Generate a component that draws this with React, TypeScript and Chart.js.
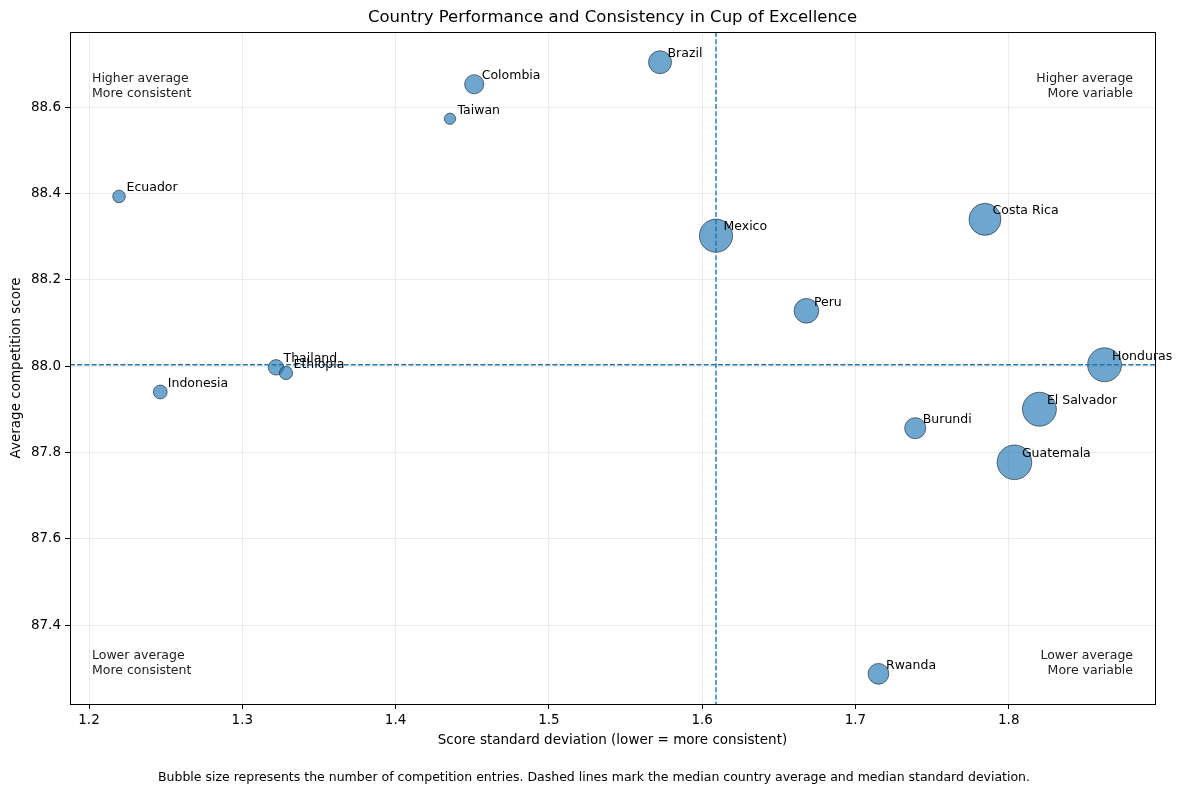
import React, { useEffect, useRef } from 'react';
import { Chart, registerables } from 'chart.js';

Chart.register(...registerables);

const countries = ['Brazil', 'Colombia', 'Taiwan', 'Ecuador', 'Mexico', 'Costa Rica', 'Peru', 'Honduras', 'El Salvador', 'Burundi', 'Guatemala', 'Rwanda', 'Thailand', 'Ethiopia', 'Indonesia'];
const scoreStd = [1.5725, 1.4513, 1.4355, 1.2196, 1.6090, 1.7845, 1.6680, 1.8625, 1.8200, 1.7390, 1.8037, 1.7150, 1.3220, 1.3285, 1.2465];
const avgScore = [88.704, 88.653, 88.573, 88.393, 88.302, 88.340, 88.128, 88.003, 87.900, 87.856, 87.777, 87.287, 87.997, 87.984, 87.940];
const entries = [33, 23, 8, 10, 69, 64, 38, 72, 72, 28, 75, 27, 15, 11, 12];

const xTicks = [1.2, 1.3, 1.4, 1.5, 1.6, 1.7, 1.8];
const yTicks = [87.4, 87.6, 87.8, 88.0, 88.2, 88.4, 88.6];

const medianStd = 1.6090;
const medianAvg = 88.003;

const FONT = 'DejaVu Sans';

const extras = {
  id: 'extras',
  afterDatasetsDraw(chart: any) {
    const { ctx, chartArea: a, scales } = chart;
    const x = scales.x;
    const y = scales.y;
    ctx.save();
    // median lines
    ctx.strokeStyle = '#2274b2';
    ctx.lineWidth = 1.4;
    ctx.setLineDash([5, 2.2]);
    const mx = x.getPixelForValue(medianStd);
    const my = y.getPixelForValue(medianAvg);
    ctx.beginPath();
    ctx.moveTo(mx, a.top);
    ctx.lineTo(mx, a.bottom);
    ctx.moveTo(a.left, my);
    ctx.lineTo(a.right, my);
    ctx.stroke();
    ctx.setLineDash([]);

    // country labels
    ctx.fillStyle = '#000';
    ctx.font = `12.5px "${FONT}"`;
    ctx.textAlign = 'left';
    ctx.textBaseline = 'middle';
    countries.forEach((name, i) => {
      const px = x.getPixelForValue(scoreStd[i]);
      const py = y.getPixelForValue(avgScore[i]);
      ctx.fillText(name, px + 7.5, py - 8.5);
    });

    // quadrant notes
    ctx.fillStyle = '#222';
    ctx.textAlign = 'left';
    ctx.fillText('Higher average', a.left + 22, 79);
    ctx.fillText('More consistent', a.left + 22, 94);
    ctx.fillText('Lower average', a.left + 22, 656);
    ctx.fillText('More consistent', a.left + 22, 671);
    ctx.textAlign = 'right';
    ctx.fillText('Higher average', a.right - 22, 79);
    ctx.fillText('More variable', a.right - 22, 94);
    ctx.fillText('Lower average', a.right - 22, 656);
    ctx.fillText('More variable', a.right - 22, 671);

    // frame
    ctx.strokeStyle = '#000';
    ctx.lineWidth = 1;
    ctx.strokeRect(Math.round(a.left) + 0.5, Math.round(a.top) + 0.5, Math.round(a.right - a.left), Math.round(a.bottom - a.top));

    // titles
    ctx.fillStyle = '#000';
    ctx.textAlign = 'center';
    ctx.font = `16.5px "${FONT}"`;
    ctx.fillText('Country Performance and Consistency in Cup of Excellence', (a.left + a.right) / 2, 18);
    ctx.font = `13.5px "${FONT}"`;
    ctx.fillText('Score standard deviation (lower = more consistent)', (a.left + a.right) / 2, 740);
    ctx.save();
    ctx.translate(16, (a.top + a.bottom) / 2);
    ctx.rotate(-Math.PI / 2);
    ctx.fillText('Average competition score', 0, 0);
    ctx.restore();
    ctx.font = `12.5px "${FONT}"`;
    ctx.fillText('Bubble size represents the number of competition entries. Dashed lines mark the median country average and median standard deviation.', 594, 778);
    ctx.restore();
  },
};

export default function App() {
  const canvasRef = useRef<HTMLCanvasElement | null>(null);
  const chartRef = useRef<Chart | null>(null);

  useEffect(() => {
    document.body.style.margin = '0';
    if (chartRef.current) chartRef.current.destroy();
    const ctx = canvasRef.current?.getContext('2d');
    if (!ctx) return;

    chartRef.current = new Chart(ctx, {
      type: 'bubble',
      data: {
        datasets: [
          {
            data: countries.map((_, i) => ({ x: scoreStd[i], y: avgScore[i], r: 2 * Math.sqrt(entries[i]) })),
            backgroundColor: 'rgba(31,119,180,0.65)',
            borderColor: 'rgba(30,30,30,0.75)',
            borderWidth: 0.8,
          },
        ],
      },
      options: {
        responsive: false,
        animation: false,
        events: [],
        layout: { padding: { top: 32, right: 27, left: 0, bottom: 0 } },
        plugins: { legend: { display: false }, tooltip: { enabled: false }, title: { display: false } },
        scales: {
          x: {
            type: 'linear',
            min: 1.1876,
            max: 1.8954,
            afterBuildTicks: (s: any) => { s.ticks = xTicks.map((v) => ({ value: v })); },
            afterFit: (s: any) => { s.height = 92; },
            grid: { color: '#ebebeb', tickColor: '#000', tickLength: 5, lineWidth: 1 },
            border: { display: false },
            ticks: { color: '#000', font: { family: FONT, size: 13.5 }, padding: 3, maxRotation: 0, callback: (v: any) => Number(v).toFixed(1) },
          },
          y: {
            type: 'linear',
            min: 87.217,
            max: 88.774,
            afterBuildTicks: (s: any) => { s.ticks = yTicks.map((v) => ({ value: v })); },
            afterFit: (s: any) => { s.width = 70; },
            grid: { color: '#ebebeb', tickColor: '#000', tickLength: 5, lineWidth: 1 },
            border: { display: false },
            ticks: { color: '#000', font: { family: FONT, size: 13.5 }, padding: 4, callback: (v: any) => Number(v).toFixed(1) },
          },
        },
      },
      plugins: [extras],
    });

    return () => {
      if (chartRef.current) {
        chartRef.current.destroy();
        chartRef.current = null;
      }
    };
  }, []);

  return (
    <div style={{ width: 1182, height: 796, background: '#fff' }}>
      <canvas ref={canvasRef} width={1182} height={796} style={{ display: 'block' }} />
    </div>
  );
}
